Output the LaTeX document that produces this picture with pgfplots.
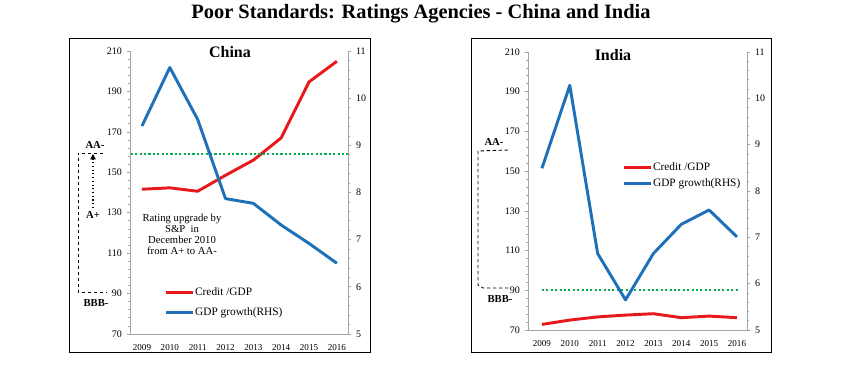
\documentclass[border=0pt]{standalone}
\usepackage{fontspec}
\setmainfont{Liberation Serif}
\usepackage{pgfplots}
\pgfplotsset{compat=1.18}
\usetikzlibrary{arrows.meta}
\definecolor{cred}{RGB}{232,24,28}
\definecolor{cblue}{RGB}{30,112,184}
\definecolor{cgreen}{RGB}{0,176,80}
\definecolor{axgray}{RGB}{165,165,165}

\pgfplotsset{
  panelbase/.style={
    scale only axis,
    anchor=south west,
    /pgf/number format/assume math mode=true,
    tick label style={font=\fontsize{7.5}{8}\selectfont},
    axis line style={axgray, line width=0.6pt},
    major tick length=2.5pt,
    minor tick length=1.5pt,
    every tick/.style={axgray, line width=0.5pt},
  },
  leftax/.style={
    panelbase,
    ymin=70, ymax=210,
    ytick={70,90,110,130,150,170,190,210},
    minor y tick num=4,
    axis y line*=left,
    axis x line*=bottom,
    xtick={2009,2010,2011,2012,2013,2014,2015,2016},
    xticklabels={2009,2010,2011,2012,2013,2014,2015,2016},
    x tick label style={font=\fontsize{6.8}{7}\selectfont, yshift=-2pt},
    xtick style={draw=none},
    tick align=outside,
  },
  rightax/.style={
    panelbase,
    ymin=5, ymax=11,
    ytick={5,6,7,8,9,10,11},
    minor y tick num=4,
    axis y line*=right,
    axis x line=none,
    tick align=outside,
    legend cell align=left,
    legend style={draw=none, fill=none, anchor=north west,
      font=\fontsize{8.5}{9.5}\selectfont, inner sep=0pt, outer sep=0pt,
      nodes={inner sep=0.5pt}},
    legend image code/.code={\draw[##1] (0pt,0pt) -- (20pt,0pt);},
  },
  redline/.style={cred, line width=2.2pt, line join=round},
  blueline/.style={cblue, line width=2.2pt, line join=round},
  greenline/.style={cgreen, line width=1.6pt, dash pattern=on 1.6pt off 1.7pt},
}

\begin{document}
\begin{tikzpicture}
\useasboundingbox (0,0) rectangle (635.25pt,279.75pt);

% ---------------- China ----------------
\begin{axis}[leftax, at={(97.5pt,29.25pt)}, width=163.5pt, height=212.25pt,
  xmin=2008.57, xmax=2016.4]
\addplot[redline] coordinates {(2009,141.6) (2010,142.3) (2011,140.6) (2012,148.5) (2013,156) (2014,167) (2015,194.7) (2016,204.9)};
\addplot[greenline] coordinates {(2008.6,159) (2016.4,159)};
\end{axis}
\begin{axis}[rightax, at={(97.5pt,29.25pt)}, width=163.5pt, height=212.25pt,
  xmin=2008.57, xmax=2016.4,
  legend style={at={(0.16,0.166)}, row sep=6.5pt}]
\addlegendimage{cred, line width=2.2pt}
\addlegendentry{Credit /GDP}
\addplot[blueline] coordinates {(2009,9.41) (2010,10.65) (2011,9.55) (2012,7.87) (2013,7.77) (2014,7.31) (2015,6.92) (2016,6.5)};
\addlegendentry{GDP growth(RHS)}
\end{axis}

% ---------------- India ----------------
\begin{axis}[leftax, at={(396pt,32.25pt)}, width=164.25pt, height=208.5pt,
  xmin=2008.5, xmax=2016.36]
\addplot[redline] coordinates {(2009,72.8) (2010,75) (2011,76.6) (2012,77.5) (2013,78.2) (2014,76.2) (2015,77) (2016,76.2)};
\addplot[greenline] coordinates {(2009,90) (2016.1,90)};
\end{axis}
\begin{axis}[rightax, at={(396pt,32.25pt)}, width=164.25pt, height=208.5pt,
  xmin=2008.5, xmax=2016.36,
  legend style={at={(0.433,0.605)}, row sep=4pt}]
\addlegendimage{cred, line width=2.2pt}
\addlegendentry{Credit /GDP}
\addplot[blueline] coordinates {(2009,8.49) (2010,10.28) (2011,6.65) (2012,5.65) (2013,6.65) (2014,7.28) (2015,7.59) (2016,7.01)};
\addlegendentry{GDP growth(RHS)}
\end{axis}

% ---------------- annotations (pixel coordinates) ----------------
\begin{scope}[x=0.75pt, y=-0.75pt, yshift=279.75pt]
  % title
  \node[font=\fontsize{15.3}{17}\selectfont\bfseries] at (421,14) {Poor Standards: Ratings Agencies - China and India};
  % frames
  \draw[black, line width=0.6pt] (69,38) rectangle (370,352);
  \draw[black, line width=0.6pt] (471,38) rectangle (771,352);
  % panel titles
  \node[font=\fontsize{12}{14}\selectfont\bfseries] at (230,52) {China};
  \node[font=\fontsize{12}{14}\selectfont\bfseries] at (613,55) {India};
  % China rating bracket
  \draw[black, line width=0.7pt, dash pattern=on 2.5pt off 2pt] (103,153) -- (78,153) -- (78,292) -- (107,292);
  \draw[black, line width=0.8pt, dotted, -{Triangle[length=4pt,width=4pt]}] (93,208) -- (93,154);
  \node[font=\fontsize{8}{9}\selectfont\bfseries] at (95,145) {AA-};
  \node[font=\fontsize{8}{9}\selectfont\bfseries] at (93,215) {A+};
  \node[font=\fontsize{8}{9}\selectfont\bfseries] at (96,303) {BBB-};
  \node[font=\fontsize{8}{8.3}\selectfont, align=center] at (182,234)
    {Rating upgrade by\\S\&P~~in\\December 2010\\from A+ to AA-};
  % India rating bracket
  \draw[black, line width=0.7pt, dash pattern=on 2.5pt off 2pt] (508,150) -- (478,151) -- (478,285) -- (483,288) -- (511,288);
  \node[font=\fontsize{8}{9}\selectfont\bfseries] at (494,142) {AA-};
  \node[font=\fontsize{8}{9}\selectfont\bfseries] at (500,299) {BBB-};
\end{scope}
\end{tikzpicture}
\end{document}
